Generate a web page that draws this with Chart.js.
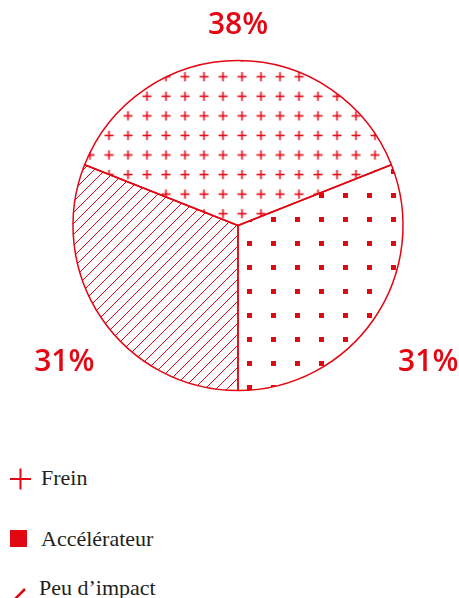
<!DOCTYPE html>
<html>
<head>
<meta charset="utf-8">
<script src="https://cdn.jsdelivr.net/npm/chart.js@4.4.1/dist/chart.umd.min.js"></script>
<style>
  html, body { margin: 0; padding: 0; background: #fff; }
  #page { position: relative; width: 459px; height: 598px; overflow: hidden; }
  #pie-chart { position: absolute; left: 0; top: 0; }
  .item { position: absolute; left: 0; height: 30px; }
  .item svg { position: absolute; left: 0; top: 0; }
  .item span {
    position: absolute; left: 41px; top: 0; white-space: nowrap;
    font: 22px/22px "Liberation Serif", serif; color: #231f20;
  }
</style>
</head>
<body>
<div id="page">
  <canvas id="pie-chart" width="459" height="451"></canvas>
  <div id="legend"></div>
</div>
<script>
const labels = ["Frein", "Accélérateur", "Peu d’impact"];
const values = [38, 31, 31];

const red = "#e30613";

// motifs de remplissage
function makePattern(size, draw, matrix) {
    const c = document.createElement("canvas");
    c.width = size;
    c.height = size;
    const g = c.getContext("2d");
    g.strokeStyle = red;
    g.fillStyle = red;
    draw(g);
    const p = g.createPattern(c, "repeat");
    p.setTransform(matrix);
    return p;
}

const plusPattern = makePattern(19, g => {
    g.lineWidth = 1.5;
    g.beginPath();
    g.moveTo(5, 9.5); g.lineTo(14, 9.5);
    g.moveTo(9.5, 5); g.lineTo(9.5, 14);
    g.stroke();
}, new DOMMatrix([1, 0, 0, 1.03, 4.5, 8.2]));

const dotPattern = makePattern(24, g => {
    g.fillRect(10, 10, 5, 5);
}, new DOMMatrix([1, 0, 0, 1, 21, 15]));

const hatchPattern = makePattern(11, g => {
    g.lineWidth = 1;
    g.beginPath();
    g.moveTo(-1, 12); g.lineTo(12, -1);
    g.moveTo(-2, 2); g.lineTo(2, -2);
    g.moveTo(9, 13); g.lineTo(13, 9);
    g.stroke();
}, new DOMMatrix([1, 0, 0, 1, 0, 0]));

const total = values.reduce((a, b) => a + b, 0);

// pourcentages autour du camembert
const pctLabels = {
    id: "pctLabels",
    afterDatasetsDraw(chart) {
        const ctx = chart.ctx;
        const meta = chart.getDatasetMeta(0);
        ctx.save();
        ctx.font = '600 30px "Open Sans"';
        ctx.fillStyle = red;
        ctx.textAlign = "center";
        ctx.textBaseline = "alphabetic";
        meta.data.forEach((arc, i) => {
            const { x, y, startAngle, endAngle, outerRadius } =
                arc.getProps(["x", "y", "startAngle", "endAngle", "outerRadius"], true);
            const mid = (startAngle + endAngle) / 2;
            const c = Math.cos(mid), s = Math.sin(mid);
            const lx = x + c * (outerRadius + 55) + 10 * Math.abs(c);
            const ly = y + s * (outerRadius + 37) + 37 * Math.max(s, 0);
            ctx.fillText(Math.round(values[i] / total * 100) + "%", lx, ly + 10.7);
        });
        ctx.restore();
    }
};

new Chart(document.getElementById("pie-chart"), {
    type: "pie",
    data: {
        labels: labels,
        datasets: [
            {
                data: values,
                backgroundColor: [plusPattern, dotPattern, hatchPattern],
                borderColor: red,
                borderWidth: 1.5
            }
        ]
    },
    options: {
        responsive: false,
        animation: false,
        events: [],
        radius: 165,
        rotation: -values[0] / total * 180,
        layout: { padding: { left: 17 } },
        plugins: {
            legend: { display: false },
            tooltip: { enabled: false }
        }
    },
    plugins: [pctLabels]
});

// légende
const icons = [
    '<svg width="32" height="30"><path d="M10 12H31M20.5 1.5V22.5" stroke="' + red + '" stroke-width="2" fill="none"/></svg>',
    '<svg width="32" height="30"><rect x="10" y="2" width="17" height="17" fill="' + red + '"/></svg>',
    '<svg width="32" height="30"><path d="M10 27L25 12" stroke="' + red + '" stroke-width="2.5" fill="none"/></svg>'
];
const tops = [467, 528, 577];
const legend = document.getElementById("legend");
labels.forEach((l, i) => {
    const d = document.createElement("div");
    d.className = "item";
    d.style.top = tops[i] + "px";
    d.innerHTML = icons[i] + "<span></span>";
    d.querySelector("span").textContent = l;
    if (i === 2) d.querySelector("span").style.left = "39px";
    legend.appendChild(d);
});
</script>
</body>
</html>
